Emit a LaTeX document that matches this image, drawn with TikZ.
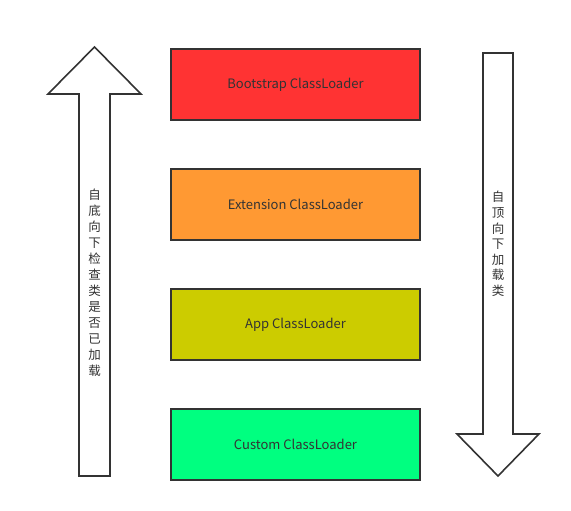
\documentclass[tikz,border=0pt]{standalone}
\usepackage{fontspec}
\setmainfont{Noto Sans CJK SC}
\definecolor{edge}{HTML}{333333}
\definecolor{cRed}{HTML}{FF3333}
\definecolor{cOrange}{HTML}{FF9933}
\definecolor{cOlive}{HTML}{CCCC00}
\definecolor{cGreen}{HTML}{00FF80}
\tikzset{
  loader/.style={draw=edge, line width=2pt, minimum width=249pt, minimum height=71pt,
    inner sep=0pt, text=edge, font=\fontsize{13}{15}\selectfont, anchor=north west},
  bigarrow/.style={draw=edge, line width=1.6pt, fill=white, line join=miter},
  vtext/.style={align=center, inner sep=0pt, text=edge}
}
\begin{document}
\begin{tikzpicture}[x=1pt,y=-1pt]
\useasboundingbox (0,0) rectangle (571,511);
% boxes
\node[loader, fill=cRed] (boot) at (170,48) {Bootstrap ClassLoader};
\node[loader, fill=cOrange] (ext) at (170,168) {Extension ClassLoader};
\node[loader, fill=cOlive] (app) at (170,288) {App ClassLoader};
\node[loader, fill=cGreen] (cust) at (170,408) {Custom ClassLoader};
% left up arrow
\draw[bigarrow] (94.5,47) -- (141,94) -- (110,94) -- (110,476) -- (79,476) -- (79,94) -- (48,94) -- cycle;
% right down arrow
\draw[bigarrow] (483,53) -- (513,53) -- (513,434) -- (539,434) -- (498,476) -- (457,434) -- (483,434) -- cycle;
% labels
\node[vtext, font=\fontsize{12.5}{16}\selectfont] (up) at (94.5,283) {自\\底\\向\\下\\检\\查\\类\\是\\否\\已\\加\\载};
\node[vtext, font=\fontsize{12.5}{15.6}\selectfont] (down) at (498,244) {自\\顶\\向\\下\\加\\载\\类};
\end{tikzpicture}
\end{document}
